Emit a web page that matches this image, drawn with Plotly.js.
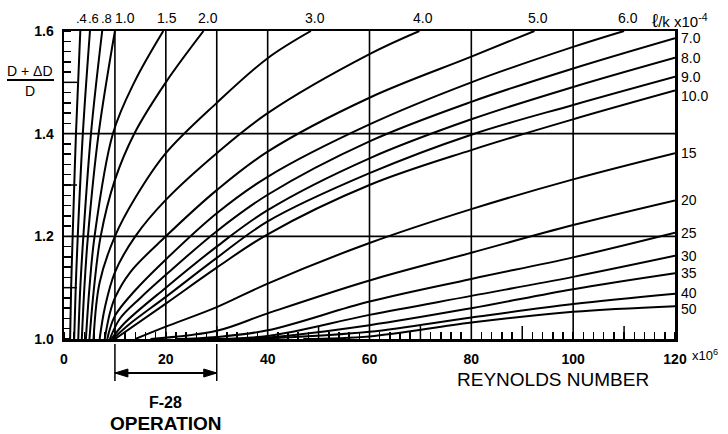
<!DOCTYPE html>
<html><head><meta charset="utf-8">
<script src="https://cdn.plot.ly/plotly-3.0.1.min.js"></script>
<style>html,body{margin:0;padding:0;background:#fff}#chart{width:728px;height:434px}</style>
</head><body><div id="chart"></div>
<script>
// ---- data: (D+dD)/D vs Reynolds number (x10^6), one curve per l/k (x10^-4) ----
const labels = ['.4','.6','.8','1.0','1.5','2.0','3.0','4.0','5.0','6.0','7.0','8.0','9.0','10.0','15','20','25','30','35','40','50'];

const x_0_4 = [1.2, 1.4, 1.7, 2.35, 3.2];                const y_0_4 = [1.0, 1.1, 1.2, 1.4, 1.6];
const x_0_6 = [2.0, 2.3, 2.7, 3.7, 5.1];                 const y_0_6 = [1.0, 1.1, 1.2, 1.4, 1.6];
const x_0_8 = [2.8, 3.2, 3.8, 5.3, 7.5];                 const y_0_8 = [1.0, 1.1, 1.2, 1.4, 1.6];
const x_1_0 = [3.5, 4.0, 4.7, 6.8, 10.0];                const y_1_0 = [1.0, 1.1, 1.2, 1.4, 1.6];
const x_1_5 = [4.3, 5.0, 6.0, 9.6, 13.8, 19.5];          const y_1_5 = [1.0, 1.1, 1.2, 1.4, 1.5, 1.6];
const x_2_0 = [5.0, 5.9, 7.2, 10, 13.8, 20, 27.4];       const y_2_0 = [1.0, 1.1, 1.2, 1.31, 1.4, 1.5, 1.6];
const x_3_0 = [5.8, 7.0, 10, 14, 20, 30, 40, 48.5];      const y_3_0 = [1.0, 1.11, 1.2, 1.275, 1.362, 1.46, 1.547, 1.6];
const x_4_0 = [7.0, 8.0, 10, 14, 20, 30, 40, 60, 69.8];  const y_4_0 = [1.0, 1.06, 1.13, 1.2, 1.271, 1.362, 1.44, 1.555, 1.6];
const x_5_0 = [8, 9, 10, 13, 20, 30, 40, 60, 80, 92.4];  const y_5_0 = [1.0, 1.05, 1.08, 1.13, 1.2, 1.29, 1.365, 1.47, 1.55, 1.6];
const x_6_0 = [8.5, 10, 14, 20, 30, 40, 60, 80, 100, 110];   const y_6_0 = [1.0, 1.045, 1.095, 1.155, 1.245, 1.316, 1.418, 1.5, 1.569, 1.6];
const x_7_0 = [9, 11, 15, 20, 30, 40, 60, 80, 100, 120];     const y_7_0 = [1.0, 1.04, 1.08, 1.125, 1.21, 1.281, 1.385, 1.462, 1.527, 1.586];
const x_8_0 = [9.3, 12, 20, 30, 40, 60, 80, 100, 120];       const y_8_0 = [1.0, 1.032, 1.10, 1.18, 1.251, 1.352, 1.428, 1.491, 1.548];
const x_9_0 = [9.6, 13, 20, 30, 40, 60, 80, 100, 120];       const y_9_0 = [1.0, 1.03, 1.082, 1.158, 1.229, 1.323, 1.398, 1.456, 1.511];
const x_10 = [10, 20, 30, 40, 60, 80, 100, 120];             const y_10 = [1.0, 1.069, 1.139, 1.204, 1.30, 1.368, 1.428, 1.484];
const x_15 = [14, 20, 30, 40, 60, 80, 100, 120];             const y_15 = [1.0, 1.024, 1.062, 1.108, 1.187, 1.253, 1.311, 1.362];
const x_20 = [17, 30, 40, 60, 80, 100, 120];                 const y_20 = [1.0, 1.016, 1.05, 1.114, 1.168, 1.222, 1.270];
const x_25 = [22, 30, 40, 60, 80, 100, 120];                 const y_25 = [1.0, 1.004, 1.017, 1.073, 1.117, 1.159, 1.207];
const x_30 = [27, 40, 60, 80, 100, 120];                     const y_30 = [1.0, 1.006, 1.047, 1.084, 1.121, 1.162];
const x_35 = [32, 40, 60, 80, 100, 120];                     const y_35 = [1.0, 1.003, 1.027, 1.06, 1.097, 1.128];
const x_40 = [37, 60, 80, 100, 120];                         const y_40 = [1.0, 1.014, 1.042, 1.068, 1.088];
const x_50 = [47, 60, 80, 100, 120];                         const y_50 = [1.0, 1.005, 1.032, 1.053, 1.064];

const xTickVals = [0, 20, 40, 60, 80, 100, 120];
const xTickText = ['0', '20', '40', '60', '80', '100', '120'];
const yTickVals = [1.0, 1.2, 1.4, 1.6];
const yTickText = ['1.0', '1.2', '1.4', '1.6'];
const xGrid = [10, 20, 30, 40, 60, 80, 100];
const yGrid = [1.2, 1.4];
const xLongTicks = [10, 30, 50, 70, 90, 110];
const yLongTicks = [1.1, 1.3, 1.5];
const f28Range = [10, 30];

// ---- layout helpers ----
const W = 728, H = 434, M = {l: 64, r: 53, t: 31, b: 95};
const PW = W - M.l - M.r, PH = H - M.t - M.b;
const pxX = v => (v - M.l) / PW;
const pxY = v => (H - M.b - v) / PH;
const FONT = 'Liberation Sans, Arial, Helvetica, sans-serif';

const series = [
  [x_0_4, y_0_4], [x_0_6, y_0_6], [x_0_8, y_0_8], [x_1_0, y_1_0], [x_1_5, y_1_5],
  [x_2_0, y_2_0], [x_3_0, y_3_0], [x_4_0, y_4_0], [x_5_0, y_5_0], [x_6_0, y_6_0],
  [x_7_0, y_7_0], [x_8_0, y_8_0], [x_9_0, y_9_0], [x_10, y_10], [x_15, y_15],
  [x_20, y_20], [x_25, y_25], [x_30, y_30], [x_35, y_35], [x_40, y_40], [x_50, y_50]
];

const traces = series.map(([x, y], i) => ({
  x, y, type: 'scatter', mode: 'lines', name: labels[i],
  line: {color: '#000', width: 2, shape: 'spline', smoothing: 1.0},
  hoverinfo: 'skip', showlegend: false
}));

const shapes = [];
xGrid.forEach(v => shapes.push({type: 'line', xref: 'x', yref: 'paper', x0: v, x1: v, y0: 0, y1: 1, line: {color: '#000', width: 1.6}, layer: 'below'}));
yGrid.forEach(v => shapes.push({type: 'line', xref: 'paper', yref: 'y', x0: 0, x1: 1, y0: v, y1: v, line: {color: '#000', width: 1.6}, layer: 'below'}));
xLongTicks.forEach(v => shapes.push({type: 'line', xref: 'x', yref: 'paper', x0: v, x1: v, y0: 0, y1: 13 / PH, line: {color: '#000', width: 1.5}}));
yLongTicks.forEach(v => shapes.push({type: 'line', xref: 'paper', yref: 'y', x0: 0, x1: 13 / PW, y0: v, y1: v, line: {color: '#000', width: 1.5}}));
// F-28 operation bracket
f28Range.forEach(v => shapes.push({type: 'line', xref: 'x', yref: 'paper', x0: v, x1: v, y0: pxY(344), y1: pxY(381), line: {color: '#000', width: 1.5}}));
const arrowY = pxY(373);
shapes.push({type: 'line', xref: 'x', yref: 'paper', x0: f28Range[0], x1: f28Range[1], y0: arrowY, y1: arrowY, line: {color: '#000', width: 2}});
// arrowheads as filled triangles (13 px long, 8 px tall)
const headLen = 13 * 120 / PW, headHalf = 4 / PH;
[[f28Range[0], 1], [f28Range[1], -1]].forEach(([tip, dir]) => {
  const base = tip + dir * headLen;
  shapes.push({type: 'path', xref: 'x', yref: 'paper',
    path: `M ${tip} ${arrowY} L ${base} ${arrowY + headHalf} L ${base} ${arrowY - headHalf} Z`,
    fillcolor: '#000', line: {color: '#000', width: 1}});
});
// fraction bar of y label
shapes.push({type: 'line', xref: 'paper', yref: 'paper', x0: pxX(7), x1: pxX(54), y0: pxY(80), y1: pxY(80), line: {color: '#000', width: 1.8}});

const annotations = [];
// top labels (curves leaving through the top)
const topShift = {'.4': 1, '.6': 4, '.8': 4, '1.0': 10};
for (let i = 0; i < 10; i++) {
  const xs = series[i][0];
  annotations.push({x: xs[xs.length - 1], y: 1, xref: 'x', yref: 'paper', yanchor: 'bottom', xanchor: 'center',
    xshift: topShift[labels[i]] !== undefined ? topShift[labels[i]] : 4, yshift: 3, text: labels[i], showarrow: false,
    font: {family: FONT, size: i < 3 ? 13 : 14, color: '#000'}});
}
// right labels (curves ending at x = 120)
const rightShift = {'10.0': -5, '40': 1, '50': -3};
for (let i = 10; i < series.length; i++) {
  const ys = series[i][1];
  annotations.push({x: 120, y: ys[ys.length - 1], xref: 'x', yref: 'y', xanchor: 'left', yanchor: 'middle',
    xshift: 4, yshift: rightShift[labels[i]] || 0, text: labels[i], showarrow: false,
    font: {family: FONT, size: 14, color: '#000'}});
}
annotations.push({x: pxX(650), y: pxY(21), xref: 'paper', yref: 'paper', xanchor: 'left', yanchor: 'middle',
  text: '<span style="font-size:19px">ℓ</span>/k x10<sup>-4</sup>', showarrow: false, font: {family: FONT, size: 15, color: '#000'}});
annotations.push({x: pxX(30), y: pxY(71), xref: 'paper', yref: 'paper', xanchor: 'center', yanchor: 'middle',
  text: 'D + ΔD', showarrow: false, font: {family: FONT, size: 14, color: '#000'}});
annotations.push({x: pxX(30), y: pxY(91), xref: 'paper', yref: 'paper', xanchor: 'center', yanchor: 'middle',
  text: 'D', showarrow: false, font: {family: FONT, size: 14, color: '#000'}});
annotations.push({x: pxX(690), y: pxY(355), xref: 'paper', yref: 'paper', xanchor: 'left', yanchor: 'middle',
  text: 'x10<sup>6</sup>', showarrow: false, font: {family: FONT, size: 13, color: '#000'}});
annotations.push({x: pxX(553), y: pxY(379), xref: 'paper', yref: 'paper', xanchor: 'center', yanchor: 'middle',
  text: 'REYNOLDS NUMBER', showarrow: false, font: {family: FONT, size: 19, color: '#000'}});
annotations.push({x: (f28Range[0] + f28Range[1]) / 2, y: pxY(402), xref: 'x', yref: 'paper', xanchor: 'center', yanchor: 'middle',
  text: '<b>F-28</b>', showarrow: false, font: {family: FONT, size: 16, color: '#000'}});
annotations.push({x: (f28Range[0] + f28Range[1]) / 2, y: pxY(423), xref: 'x', yref: 'paper', xanchor: 'center', yanchor: 'middle',
  text: '<b>OPERATION</b>', showarrow: false, font: {family: FONT, size: 19, color: '#000'}});

const layout = {
  width: W, height: H, margin: M, paper_bgcolor: '#fff', plot_bgcolor: '#fff', showlegend: false,
  font: {family: FONT, color: '#000'},
  xaxis: {range: [0, 120], tickmode: 'array', tickvals: xTickVals, ticktext: xTickText, ticks: '',
    showgrid: false, zeroline: false, showline: true, linecolor: '#000', linewidth: 2.5, mirror: true,
    tickfont: {family: FONT, size: 14, color: '#000', weight: 'bold'}, ticklabelstandoff: 6,
    minor: {tickmode: 'linear', tick0: 0, dtick: 2, ticks: 'inside', ticklen: 7, tickwidth: 1.5, tickcolor: '#000', showgrid: false},
    fixedrange: true},
  yaxis: {range: [1.0, 1.6], tickmode: 'array', tickvals: yTickVals, ticktext: yTickText, ticks: '',
    showgrid: false, zeroline: false, showline: true, linecolor: '#000', linewidth: 2.5, mirror: true,
    tickfont: {family: FONT, size: 14, color: '#000', weight: 'bold'}, ticklabelstandoff: 5,
    minor: {tickmode: 'linear', tick0: 1.0, dtick: 0.02, ticks: 'inside', ticklen: 7, tickwidth: 1.5, tickcolor: '#000', showgrid: false},
    fixedrange: true},
  shapes, annotations
};

Plotly.newPlot('chart', traces, layout, {staticPlot: true, displayModeBar: false});
</script>
</body></html>
